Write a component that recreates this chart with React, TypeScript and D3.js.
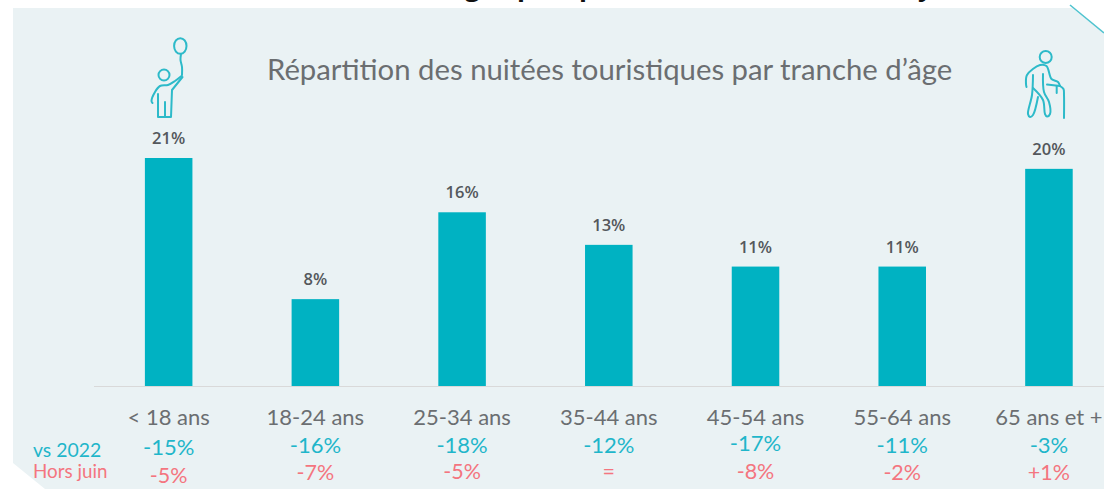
import React from "react";
import * as d3 from "d3";

// Data
const categories = ["< 18 ans", "18-24 ans", "25-34 ans", "35-44 ans", "45-54 ans", "55-64 ans", "65 ans et +"];
const shares = [21, 8, 16, 13, 11, 11, 20];
const vs2022 = ["-15%", "-16%", "-18%", "-12%", "-17%", "-11%", "-3%"];
const horsJuin = ["-5%", "-7%", "-5%", "=", "-8%", "-2%", "+1%"];
const chartTitle = "Répartition des nuitées touristiques par tranche d’âge";
const rowLabels = ["vs 2022", "Hors juin"];

// Layout (baselines of the hand-placed rows)
const vsBaselines = [455, 453, 453, 453, 451, 453, 453];
const horsBaselines = [483, 480, 479, 479, 479, 480, 480];
const W = 1104, H = 489;
const BASE = 386;

const TEAL = "#00B2C2";
const TEXT_TEAL = "#1FB6CA";
const RED = "#F4757F";
const GREY = "#6B6E71";
const FONT = "Lato, 'Open Sans', sans-serif";

const x = d3.scaleBand<string>().domain(categories).range([95.3, 1122.3]).paddingInner(0.676).paddingOuter(0.338);
const y = d3.scaleLinear().domain([0, 21]).range([BASE, 158]);
const line = d3.line<[number, number]>().curve(d3.curveCatmullRom.alpha(0.5));
const poly = d3.line<[number, number]>();

const panel: [number, number][] = [[13, 8], [1072, 8], [1104, 33], [1104, 489], [45, 489], [13, 463]];

const childPaths = [
  line([[181, 54], [180.5, 60], [182, 67], [182, 75]]),
  line([[152.5, 103], [151.5, 101], [155, 92], [160, 86], [168, 85], [175, 81], [181.5, 76]]),
  poly([[182.5, 77], [172, 90], [171, 117], [158, 117], [158, 94]]),
  poly([[165, 117], [165, 102]]),
];
const elderPaths = [
  line([[1026.5, 87], [1026, 84], [1027, 75], [1040, 65], [1046.5, 66], [1051.5, 79], [1058, 82], [1060, 86]]),
  line([[1043, 74], [1044, 92], [1049, 102], [1050, 114], [1047, 116.5], [1045, 114], [1043, 100], [1033, 88]]),
  line([[1033, 75], [1032, 95], [1028, 114], [1030, 117], [1033, 115], [1038, 97]]),
  line([[1064, 118], [1064, 95], [1063.5, 89], [1060, 86]]),
  poly([[1060, 86], [1047, 84.5]]),
  poly([[1056.7, 86], [1056.7, 93]]),
];

export default function App() {
  const bw = x.bandwidth();
  const cx = (c: string) => (x(c) as number) + bw / 2;
  return (
    <svg width={W} height={H} viewBox={`0 0 ${W} ${H}`} style={{ position: "absolute", left: 0, top: 0, background: "#fff" }} fontFamily={FONT}>
      <path d={poly(panel) as string} fill="#EAF2F4" />
      <line x1={1070} y1={5} x2={1104} y2={33} stroke="#4FC3CF" strokeWidth={1.6} />

      {/* cropped heading above the panel: only descenders show */}
      <g fontFamily="'Open Sans', sans-serif" fontWeight={700} fontSize={26} fill="#111">
        <text x={465} y={-4}>g</text>
        <text x={517} y={-4}>p</text>
        <text x={579} y={-4}>p</text>
        <text x={918} y={-4}>y</text>
      </g>

      <text x={267} y={80} fontSize={29.3} fill={GREY} fontWeight={400}>{chartTitle}</text>

      <g fill="none" stroke="#2DBAC9" strokeWidth={2} strokeLinecap="round" strokeLinejoin="round">
        <ellipse cx={180.3} cy={46} rx={6.2} ry={7.8} />
        <circle cx={164} cy={75} r={5.5} />
        {childPaths.map((d, i) => <path key={i} d={d as string} />)}
        <circle cx={1045.7} cy={57} r={6} />
        {elderPaths.map((d, i) => <path key={i} d={d as string} />)}
      </g>

      {categories.map((c, i) => (
        <g key={c}>
          <rect x={x(c)} y={y(shares[i])} width={bw} height={BASE - y(shares[i])} fill={TEAL} />
          <text x={cx(c)} y={y(shares[i]) - 14} textAnchor="middle" fontSize={16.5} fontWeight={600} fontFamily="'Open Sans', sans-serif" fill="#54585C">{shares[i]}%</text>
          <text x={cx(c)} y={425} textAnchor="middle" fontSize={22} fill={GREY}>{c}</text>
          <text x={cx(c)} y={vsBaselines[i]} textAnchor="middle" fontSize={22} fill={TEXT_TEAL}>{vs2022[i]}</text>
          <text x={cx(c)} y={horsBaselines[i]} textAnchor="middle" fontSize={21.5} fill={RED}>{horsJuin[i]}</text>
        </g>
      ))}
      <line x1={94} x2={W} y1={BASE + 0.5} y2={BASE + 0.5} stroke="#D9D9D9" strokeWidth={1} />

      <text x={33} y={457} fontSize={19.4} fill={TEXT_TEAL}>{rowLabels[0]}</text>
      <text x={33} y={478} fontSize={18.8} fill={RED}>{rowLabels[1]}</text>
    </svg>
  );
}
